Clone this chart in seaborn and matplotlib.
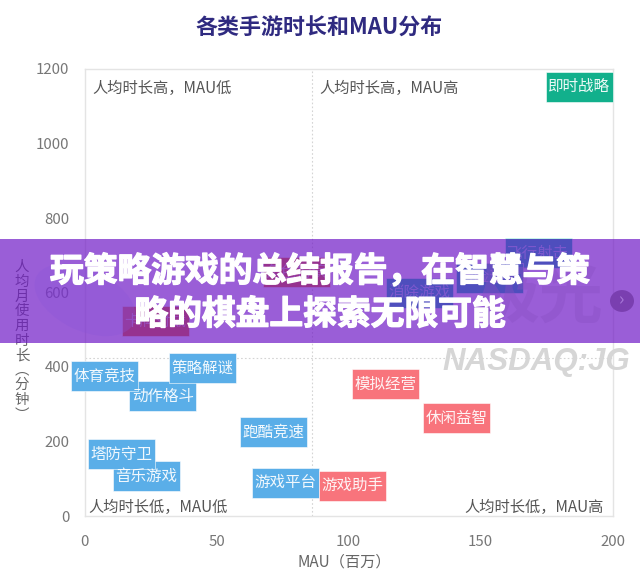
import numpy as np
import pandas as pd
import matplotlib
matplotlib.use("Agg")
import matplotlib.pyplot as plt
import matplotlib.patheffects as pe
from matplotlib.patches import Rectangle, Circle, Ellipse
from matplotlib.path import Path
import seaborn as sns

# values, MAU in millions, hours in minutes
games = ["动作格斗", "体育竞技", "策略解谜", "跑酷竞速", "音乐游戏", "塔防守卫", "游戏平台",
         "模拟经营", "休闲益智", "游戏助手", "即时战略",
         "飞行射击", "冒险游戏", "消除游戏", "角色扮演", "卡牌对战"]
mau = [29.6, 7.7, 44.7, 71.6, 23.4, 14.0, 76.1,
       114.0, 140.9, 101.3, 187.3,
       171.9, 153.2, 127.0, 80.1, 26.9]
minutes = [322, 376, 397, 225, 107, 166, 89,
           354, 263, 81, 1152,
           706, 639, 599, 655, 523]
groups = ["blue"] * 7 + ["red"] * 3 + ["green"] + ["blue_under"] * 3 + ["red_under"] * 2

xticks = [0, 50, 100, 150, 200]
yticks = [0, 200, 400, 600, 800, 1000, 1200]
mid_x = 86
mid_y = 423

# the *_under colours are what shows through the purple band as darker boxes
palette = {"blue": "#5aaee8", "red": "#f8747c", "green": "#12b08c",
           "blue_under": "#00c8ab", "red_under": "#f06b10"}

sns.set_theme(style="white")
plt.rcParams['font.family'] = ['Noto Sans CJK SC', 'DejaVu Sans']

W, H = 640, 583
fig = plt.figure(figsize=(W / 100, H / 100), dpi=100, facecolor="white")
ax = fig.add_axes([84.6 / W, 1 - 516 / H, 528 / W, 447 / H])

df = pd.DataFrame({"game": games, "mau": mau, "minutes": minutes, "group": groups})
box = Path([(-33.5, -15), (33.5, -15), (33.5, 15), (-33.5, 15), (-33.5, -15)], closed=True)
sns.scatterplot(data=df, x="mau", y="minutes", hue="group", palette=palette, marker=box,
                s=(67 * 0.72) ** 2, linewidth=0.4, edgecolor="#ffffff", legend=False,
                clip_on=False, zorder=3, ax=ax)

for name, x, y, g in zip(games, mau, minutes, groups):
    ax.text(x, y, name, ha="center", va="center", color="#ffffff", fontsize=11.2,
            alpha=0.92 if "under" not in g else 0.6, zorder=4)

ax.set_xlim(0, 200)
ax.set_ylim(0, 1200)
ax.set_xticks(xticks)
ax.set_yticks(yticks)
ax.tick_params(length=0, labelsize=10.8, labelcolor="#777777", pad=14)
ax.tick_params(axis="y", pad=11)
ax.set_xlabel("")
ax.set_ylabel("")
for s in ax.spines.values():
    s.set_color("#e4e4e4")
    s.set_linewidth(1.0)
ax.axvline(mid_x, color="#d4d4d4", lw=0.8, ls=(0, (1.5, 2)), zorder=1)
ax.axhline(mid_y, color="#d4d4d4", lw=0.8, ls=(0, (1.5, 2)), zorder=1)

note = dict(fontsize=11, color="#555555", va="center", zorder=5)
ax.text(3.0, 1149, "人均时长高，MAU低", ha="left", **note)
ax.text(89.0, 1149, "人均时长高，MAU高", ha="left", **note)
ax.text(1.5, 24, "人均时长低，MAU低", ha="left", **note)
ax.text(196.5, 24, "人均时长低，MAU高", ha="right", **note)

fig.text(319 / W, 1 - 28 / H, "各类手游时长和MAU分布", ha="center", va="center",
         fontsize=15.8, fontweight="bold", color="#2f2a80")
fig.text(344 / W, 1 - 562 / H, "MAU（百万）", ha="center", va="center",
         fontsize=11, color="#666666")
fig.text(22 / W, 1 - 341 / H, "\n".join("人均月使用时长︵分钟︶"), ha="center", va="center",
         fontsize=10.4, color="#666666", linespacing=1.07, zorder=2)

# watermark
fig.text(536 / W, 1 - 362 / H, "NASDAQ:JG", ha="center", va="center", fontsize=22.5,
         fontweight="bold", style="italic", family="Liberation Sans", color="#d6d6d6", zorder=2)

# purple banner across the chart
fig.add_artist(Rectangle((0, 1 - 343 / H), 1, 104 / H, transform=fig.transFigure,
                         facecolor="#701ac6", alpha=0.7, edgecolor="none", zorder=5))
fig.add_artist(Ellipse((85 / W, 1 - 300 / H), 110 / W, 60 / H, angle=-30, transform=fig.transFigure,
                       facecolor="#8a55d8", alpha=0.3, edgecolor="none", zorder=6))
fig.text(540 / W, 1 - 298 / H, "极光", ha="center", va="center", fontsize=46,
         fontweight="bold", color="#8a4fc4", alpha=0.4, zorder=6)
fig.add_artist(Circle((622 / W, 1 - 301 / H), 12 / W, transform=fig.transFigure,
                      facecolor="#7a3fb0", edgecolor="none", zorder=6))
fig.text(622 / W, 1 - 300 / H, "›", ha="center", va="center", fontsize=13, color="#a878d8", zorder=7)

title_fx = [pe.withStroke(linewidth=1.0, foreground="#ffffff")]
fig.text(320 / W, 1 - 271 / H, "玩策略游戏的总结报告，在智慧与策", ha="center", va="center",
         fontsize=24.3, fontweight="bold", color="#ffffff", path_effects=title_fx, zorder=8)
fig.text(320 / W, 1 - 314 / H, "略的棋盘上探索无限可能", ha="center", va="center",
         fontsize=24.3, fontweight="bold", color="#ffffff", path_effects=title_fx, zorder=8)

fig.savefig("out.png", dpi=100)
